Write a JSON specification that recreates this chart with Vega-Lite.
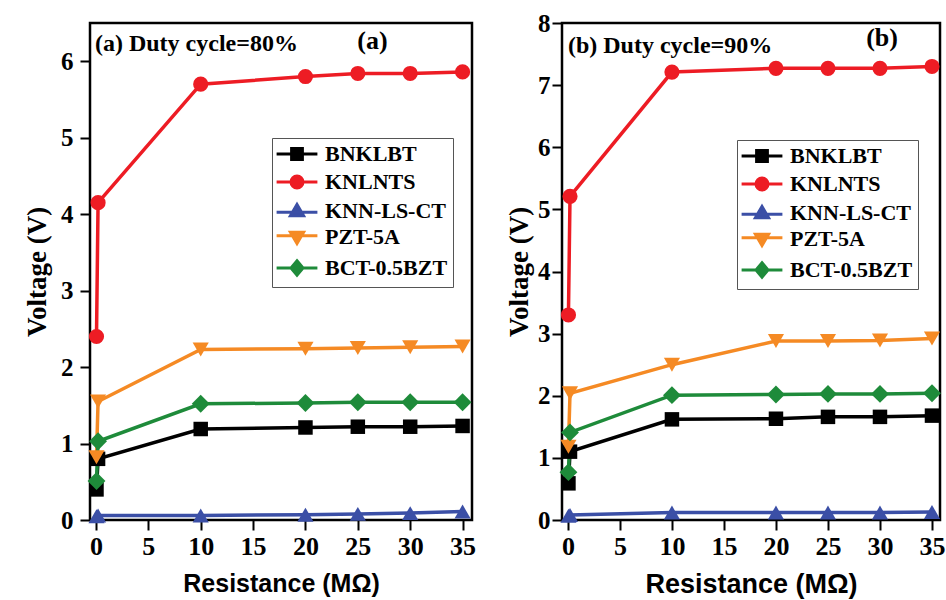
{
  "$schema": "https://vega.github.io/schema/vega-lite/v6.json",
  "background": "white",
  "padding": {"left": 22, "top": 9, "right": 0, "bottom": 0},
  "spacing": 27,
  "datasets": {
    "a": [
      {"s": "BNKLBT", "r": 0.05, "v": 0.4}, {"s": "BNKLBT", "r": 0.2, "v": 0.8}, {"s": "BNKLBT", "r": 10, "v": 1.19}, {"s": "BNKLBT", "r": 20, "v": 1.21}, {"s": "BNKLBT", "r": 25, "v": 1.22}, {"s": "BNKLBT", "r": 30, "v": 1.22}, {"s": "BNKLBT", "r": 35, "v": 1.23},
      {"s": "KNLNTS", "r": 0.05, "v": 2.4}, {"s": "KNLNTS", "r": 0.2, "v": 4.15}, {"s": "KNLNTS", "r": 10, "v": 5.7}, {"s": "KNLNTS", "r": 20, "v": 5.8}, {"s": "KNLNTS", "r": 25, "v": 5.84}, {"s": "KNLNTS", "r": 30, "v": 5.84}, {"s": "KNLNTS", "r": 35, "v": 5.86},
      {"s": "KNN-LS-CT", "r": 0.05, "v": 0.05}, {"s": "KNN-LS-CT", "r": 0.2, "v": 0.06}, {"s": "KNN-LS-CT", "r": 10, "v": 0.06}, {"s": "KNN-LS-CT", "r": 20, "v": 0.07}, {"s": "KNN-LS-CT", "r": 25, "v": 0.08}, {"s": "KNN-LS-CT", "r": 30, "v": 0.09}, {"s": "KNN-LS-CT", "r": 35, "v": 0.11},
      {"s": "PZT-5A", "r": 0.05, "v": 0.82}, {"s": "PZT-5A", "r": 0.2, "v": 1.55}, {"s": "PZT-5A", "r": 10, "v": 2.23}, {"s": "PZT-5A", "r": 20, "v": 2.24}, {"s": "PZT-5A", "r": 25, "v": 2.25}, {"s": "PZT-5A", "r": 30, "v": 2.26}, {"s": "PZT-5A", "r": 35, "v": 2.27},
      {"s": "BCT-0.5BZT", "r": 0.05, "v": 0.51}, {"s": "BCT-0.5BZT", "r": 0.2, "v": 1.03}, {"s": "BCT-0.5BZT", "r": 10, "v": 1.52}, {"s": "BCT-0.5BZT", "r": 20, "v": 1.53}, {"s": "BCT-0.5BZT", "r": 25, "v": 1.54}, {"s": "BCT-0.5BZT", "r": 30, "v": 1.54}, {"s": "BCT-0.5BZT", "r": 35, "v": 1.54}
    ],
    "b": [
      {"s": "BNKLBT", "r": 0.05, "v": 0.59}, {"s": "BNKLBT", "r": 0.2, "v": 1.1}, {"s": "BNKLBT", "r": 10, "v": 1.62}, {"s": "BNKLBT", "r": 20, "v": 1.63}, {"s": "BNKLBT", "r": 25, "v": 1.66}, {"s": "BNKLBT", "r": 30, "v": 1.66}, {"s": "BNKLBT", "r": 35, "v": 1.68},
      {"s": "KNLNTS", "r": 0.05, "v": 3.3}, {"s": "KNLNTS", "r": 0.2, "v": 5.21}, {"s": "KNLNTS", "r": 10, "v": 7.21}, {"s": "KNLNTS", "r": 20, "v": 7.27}, {"s": "KNLNTS", "r": 25, "v": 7.27}, {"s": "KNLNTS", "r": 30, "v": 7.27}, {"s": "KNLNTS", "r": 35, "v": 7.3},
      {"s": "KNN-LS-CT", "r": 0.05, "v": 0.07}, {"s": "KNN-LS-CT", "r": 0.2, "v": 0.08}, {"s": "KNN-LS-CT", "r": 10, "v": 0.12}, {"s": "KNN-LS-CT", "r": 20, "v": 0.12}, {"s": "KNN-LS-CT", "r": 25, "v": 0.12}, {"s": "KNN-LS-CT", "r": 30, "v": 0.12}, {"s": "KNN-LS-CT", "r": 35, "v": 0.13},
      {"s": "PZT-5A", "r": 0.05, "v": 1.18}, {"s": "PZT-5A", "r": 0.2, "v": 2.04}, {"s": "PZT-5A", "r": 10, "v": 2.5}, {"s": "PZT-5A", "r": 20, "v": 2.88}, {"s": "PZT-5A", "r": 25, "v": 2.88}, {"s": "PZT-5A", "r": 30, "v": 2.89}, {"s": "PZT-5A", "r": 35, "v": 2.92},
      {"s": "BCT-0.5BZT", "r": 0.05, "v": 0.77}, {"s": "BCT-0.5BZT", "r": 0.2, "v": 1.41}, {"s": "BCT-0.5BZT", "r": 10, "v": 2.01}, {"s": "BCT-0.5BZT", "r": 20, "v": 2.02}, {"s": "BCT-0.5BZT", "r": 25, "v": 2.03}, {"s": "BCT-0.5BZT", "r": 30, "v": 2.03}, {"s": "BCT-0.5BZT", "r": 35, "v": 2.04}
    ],
    "notes": [
      {"p": "a", "t": "(a) Duty cycle=80%", "x": -0.1, "y": 6.14, "k": "long"},
      {"p": "a", "t": "(a)", "x": 26.4, "y": 6.16, "k": "short"},
      {"p": "b", "t": "(b) Duty cycle=90%", "x": 0, "y": 7.51, "k": "long"},
      {"p": "b", "t": "(b)", "x": 30.2, "y": 7.63, "k": "short"}
    ]
  },
  "resolve": {"scale": {"color": "shared", "shape": "shared"}, "legend": {"color": "independent", "shape": "independent"}},
  "hconcat": [
    {
      "width": 382, "height": 497,
      "data": {"name": "a"},
      "encoding": {
        "x": {"field": "r", "type": "quantitative", "scale": {"domain": [-0.57, 35.9], "nice": false, "zero": false}, "axis": {"values": [0, 5, 10, 15, 20, 25, 30, 35], "title": "Resistance (MΩ)", "domain": false, "grid": false, "tickColor": "black", "tickWidth": 2, "tickSize": 10, "labelFont": "Liberation Serif", "labelFontWeight": "bold", "labelFontSize": 26, "labelColor": "black", "labelPadding": 3, "titleFont": "Liberation Sans", "titleFontWeight": "bold", "titleFontSize": 25, "titleColor": "black", "titlePadding": 12}},
        "y": {"field": "v", "type": "quantitative", "scale": {"domain": [0, 6.5], "nice": false}, "axis": {"values": [0, 1, 2, 3, 4, 5, 6], "title": "Voltage (V)", "domain": false, "grid": false, "tickColor": "black", "tickWidth": 2, "tickSize": 10, "labelFont": "Liberation Serif", "labelFontWeight": "bold", "labelFontSize": 25, "labelColor": "black", "labelPadding": 7, "titleFont": "Liberation Serif", "titleFontWeight": "bold", "titleFontSize": 27, "titleColor": "black", "titlePadding": 9}}
      },
      "layer": [
        {"mark": {"type": "line", "strokeWidth": 3.5}, "encoding": {"color": {"field": "s", "type": "nominal", "scale": {"domain": ["BNKLBT", "KNLNTS", "KNN-LS-CT", "PZT-5A", "BCT-0.5BZT"], "range": ["#000000", "#ed1c24", "#3b4fa6", "#f58a24", "#1e8b3a"]}, "legend": {"orient": "none", "legendX": 182, "legendY": 115, "title": null, "labelFont": "Liberation Serif", "labelFontWeight": "bold", "labelFontSize": 22, "labelColor": "black", "symbolSize": 144, "symbolStrokeWidth": 3, "strokeColor": "#555555", "fillColor": "white", "padding": 5, "rowPadding": 4, "labelOffset": 17, "symbolOffset": 9, "symbolOpacity": 1, "encode": {"symbols": {"update": {"fill": {"scale": "color", "field": "value"}, "stroke": {"scale": "color", "field": "value"}, "opacity": {"value": 1}}}}}}}},
        {"transform": [{"filter": "datum.s === 'BNKLBT'"}], "mark": {"type": "point", "shape": "square", "filled": true, "size": 210, "opacity": 1, "color": "#000000"}},
        {"transform": [{"filter": "datum.s === 'KNLNTS'"}], "mark": {"type": "point", "shape": "circle", "filled": true, "size": 230, "opacity": 1, "color": "#ed1c24"}},
        {"transform": [{"filter": "datum.s === 'KNN-LS-CT'"}], "mark": {"type": "point", "shape": "triangle-up", "filled": true, "size": 260, "opacity": 1, "color": "#3b4fa6"}},
        {"transform": [{"filter": "datum.s === 'PZT-5A'"}], "mark": {"type": "point", "shape": "triangle-down", "filled": true, "size": 260, "opacity": 1, "color": "#f58a24"}},
        {"transform": [{"filter": "datum.s === 'BCT-0.5BZT'"}], "mark": {"type": "point", "shape": "diamond", "filled": true, "size": 320, "opacity": 1, "color": "#1e8b3a"}},
        {"mark": {"type": "point", "filled": true, "opacity": 0}, "encoding": {
          "color": {"field": "s", "type": "nominal", "scale": {"domain": ["BNKLBT", "KNLNTS", "KNN-LS-CT", "PZT-5A", "BCT-0.5BZT"], "range": ["#000000", "#ed1c24", "#3b4fa6", "#f58a24", "#1e8b3a"]}, "legend": {"orient": "none", "legendX": 182, "legendY": 115, "title": null, "labelFont": "Liberation Serif", "labelFontWeight": "bold", "labelFontSize": 22, "labelColor": "black", "symbolSize": 144, "symbolStrokeWidth": 3, "strokeColor": "#555555", "fillColor": "white", "padding": 5, "rowPadding": 4, "labelOffset": 17, "symbolOffset": 9, "symbolOpacity": 1, "encode": {"symbols": {"update": {"fill": {"scale": "color", "field": "value"}, "stroke": {"scale": "color", "field": "value"}, "opacity": {"value": 1}}}}}},
          "shape": {"field": "s", "type": "nominal", "scale": {"domain": ["BNKLBT", "KNLNTS", "KNN-LS-CT", "PZT-5A", "BCT-0.5BZT"], "range": ["M-3.4,0H3.4M-0.9,-0.9H0.9V0.9H-0.9Z", "M-3.4,0H3.4M1,0A1,1,0,1,1,-1,0A1,1,0,1,1,1,0Z", "M-3.4,0.2H3.4M0,-1.1L1.1,0.8H-1.1Z", "M-3.4,-0.2H3.4M0,1.1L1.1,-0.8H-1.1Z", "M-3.4,0H3.4M0,-1.2L1,0L0,1.2L-1,0Z"]}, "legend": {"orient": "none", "legendX": 182, "legendY": 115, "title": null, "labelFont": "Liberation Serif", "labelFontWeight": "bold", "labelFontSize": 22, "labelColor": "black", "symbolSize": 144, "symbolStrokeWidth": 3, "strokeColor": "#555555", "fillColor": "white", "padding": 5, "rowPadding": 4, "labelOffset": 17, "symbolOffset": 9, "symbolOpacity": 1}}
        }},
        {"data": {"name": "notes"}, "transform": [{"filter": "datum.p === 'a' && datum.k === 'long'"}], "mark": {"type": "text", "align": "left", "baseline": "alphabetic", "font": "Liberation Serif", "fontWeight": "bold", "fontSize": 24, "color": "black"}, "encoding": {"x": {"field": "x", "type": "quantitative"}, "y": {"field": "y", "type": "quantitative"}, "text": {"field": "t"}}},
        {"data": {"name": "notes"}, "transform": [{"filter": "datum.p === 'a' && datum.k === 'short'"}], "mark": {"type": "text", "align": "center", "baseline": "alphabetic", "font": "Liberation Serif", "fontWeight": "bold", "fontSize": 26, "color": "black"}, "encoding": {"x": {"field": "x", "type": "quantitative"}, "y": {"field": "y", "type": "quantitative"}, "text": {"field": "t"}}}
      ]
    },
    {
      "width": 378, "height": 497,
      "data": {"name": "b"},
      "encoding": {
        "x": {"field": "r", "type": "quantitative", "scale": {"domain": [-0.57, 35.77], "nice": false, "zero": false}, "axis": {"values": [0, 5, 10, 15, 20, 25, 30, 35], "title": "Resistance (MΩ)", "domain": false, "grid": false, "tickColor": "black", "tickWidth": 2, "tickSize": 10, "labelFont": "Liberation Serif", "labelFontWeight": "bold", "labelFontSize": 26, "labelColor": "black", "labelPadding": 3, "titleFont": "Liberation Sans", "titleFontWeight": "bold", "titleFontSize": 27, "titleColor": "black", "titlePadding": 12}},
        "y": {"field": "v", "type": "quantitative", "scale": {"domain": [0, 8], "nice": false}, "axis": {"values": [0, 1, 2, 3, 4, 5, 6, 7, 8], "title": "Voltage (V)", "domain": false, "grid": false, "tickColor": "black", "tickWidth": 2, "tickSize": 10, "labelFont": "Liberation Serif", "labelFontWeight": "bold", "labelFontSize": 25, "labelColor": "black", "labelPadding": 2, "titleFont": "Liberation Serif", "titleFontWeight": "bold", "titleFontSize": 27, "titleColor": "black", "titlePadding": 4}}
      },
      "layer": [
        {"mark": {"type": "line", "strokeWidth": 3.5}, "encoding": {"color": {"field": "s", "type": "nominal", "scale": {"domain": ["BNKLBT", "KNLNTS", "KNN-LS-CT", "PZT-5A", "BCT-0.5BZT"], "range": ["#000000", "#ed1c24", "#3b4fa6", "#f58a24", "#1e8b3a"]}, "legend": {"orient": "none", "legendX": 175, "legendY": 117, "title": null, "labelFont": "Liberation Serif", "labelFontWeight": "bold", "labelFontSize": 22, "labelColor": "black", "symbolSize": 144, "symbolStrokeWidth": 3, "strokeColor": "#555555", "fillColor": "white", "padding": 5, "rowPadding": 4, "labelOffset": 17, "symbolOffset": 9, "symbolOpacity": 1, "encode": {"symbols": {"update": {"fill": {"scale": "color", "field": "value"}, "stroke": {"scale": "color", "field": "value"}, "opacity": {"value": 1}}}}}}}},
        {"transform": [{"filter": "datum.s === 'BNKLBT'"}], "mark": {"type": "point", "shape": "square", "filled": true, "size": 210, "opacity": 1, "color": "#000000"}},
        {"transform": [{"filter": "datum.s === 'KNLNTS'"}], "mark": {"type": "point", "shape": "circle", "filled": true, "size": 230, "opacity": 1, "color": "#ed1c24"}},
        {"transform": [{"filter": "datum.s === 'KNN-LS-CT'"}], "mark": {"type": "point", "shape": "triangle-up", "filled": true, "size": 260, "opacity": 1, "color": "#3b4fa6"}},
        {"transform": [{"filter": "datum.s === 'PZT-5A'"}], "mark": {"type": "point", "shape": "triangle-down", "filled": true, "size": 260, "opacity": 1, "color": "#f58a24"}},
        {"transform": [{"filter": "datum.s === 'BCT-0.5BZT'"}], "mark": {"type": "point", "shape": "diamond", "filled": true, "size": 320, "opacity": 1, "color": "#1e8b3a"}},
        {"mark": {"type": "point", "filled": true, "opacity": 0}, "encoding": {
          "color": {"field": "s", "type": "nominal", "scale": {"domain": ["BNKLBT", "KNLNTS", "KNN-LS-CT", "PZT-5A", "BCT-0.5BZT"], "range": ["#000000", "#ed1c24", "#3b4fa6", "#f58a24", "#1e8b3a"]}, "legend": {"orient": "none", "legendX": 175, "legendY": 117, "title": null, "labelFont": "Liberation Serif", "labelFontWeight": "bold", "labelFontSize": 22, "labelColor": "black", "symbolSize": 144, "symbolStrokeWidth": 3, "strokeColor": "#555555", "fillColor": "white", "padding": 5, "rowPadding": 4, "labelOffset": 17, "symbolOffset": 9, "symbolOpacity": 1, "encode": {"symbols": {"update": {"fill": {"scale": "color", "field": "value"}, "stroke": {"scale": "color", "field": "value"}, "opacity": {"value": 1}}}}}},
          "shape": {"field": "s", "type": "nominal", "scale": {"domain": ["BNKLBT", "KNLNTS", "KNN-LS-CT", "PZT-5A", "BCT-0.5BZT"], "range": ["M-3.4,0H3.4M-0.9,-0.9H0.9V0.9H-0.9Z", "M-3.4,0H3.4M1,0A1,1,0,1,1,-1,0A1,1,0,1,1,1,0Z", "M-3.4,0.2H3.4M0,-1.1L1.1,0.8H-1.1Z", "M-3.4,-0.2H3.4M0,1.1L1.1,-0.8H-1.1Z", "M-3.4,0H3.4M0,-1.2L1,0L0,1.2L-1,0Z"]}, "legend": {"orient": "none", "legendX": 175, "legendY": 117, "title": null, "labelFont": "Liberation Serif", "labelFontWeight": "bold", "labelFontSize": 22, "labelColor": "black", "symbolSize": 144, "symbolStrokeWidth": 3, "strokeColor": "#555555", "fillColor": "white", "padding": 5, "rowPadding": 4, "labelOffset": 17, "symbolOffset": 9, "symbolOpacity": 1}}
        }},
        {"data": {"name": "notes"}, "transform": [{"filter": "datum.p === 'b' && datum.k === 'long'"}], "mark": {"type": "text", "align": "left", "baseline": "alphabetic", "font": "Liberation Serif", "fontWeight": "bold", "fontSize": 24, "color": "black"}, "encoding": {"x": {"field": "x", "type": "quantitative"}, "y": {"field": "y", "type": "quantitative"}, "text": {"field": "t"}}},
        {"data": {"name": "notes"}, "transform": [{"filter": "datum.p === 'b' && datum.k === 'short'"}], "mark": {"type": "text", "align": "center", "baseline": "alphabetic", "font": "Liberation Serif", "fontWeight": "bold", "fontSize": 26, "color": "black"}, "encoding": {"x": {"field": "x", "type": "quantitative"}, "y": {"field": "y", "type": "quantitative"}, "text": {"field": "t"}}}
      ]
    }
  ],
  "config": {
    "view": {"stroke": "black", "strokeWidth": 2.5}
  }
}
